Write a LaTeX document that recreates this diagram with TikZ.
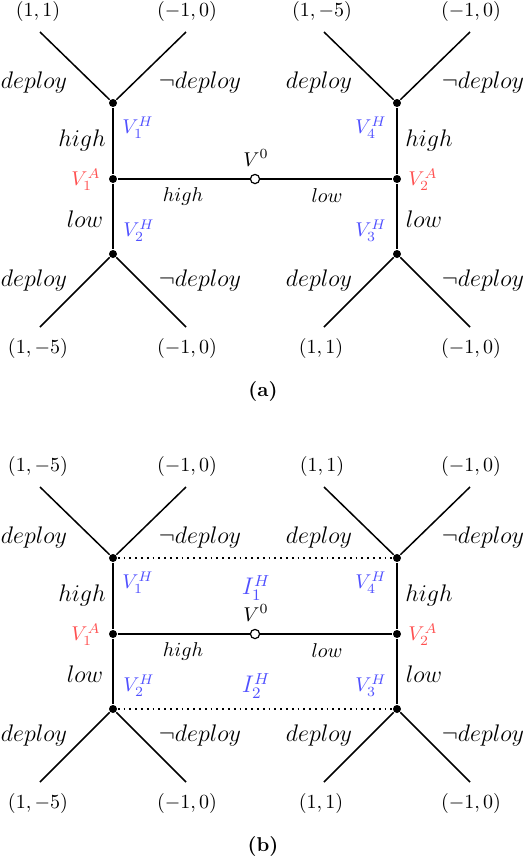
\documentclass[tikz,border=0pt]{standalone}
\usetikzlibrary{positioning}
\definecolor{cblue}{HTML}{5050FF}
\definecolor{cred}{HTML}{FF5050}
\tikzset{
  every picture/.style={line width=0.75pt},
  every node/.style={inner sep=1pt},
  dot/.style={circle, fill=black, inner sep=0pt, minimum size=4pt},
  hole/.style={circle, draw=black, fill=white, inner sep=0pt, minimum size=4.6pt, line width=0.6pt},
  act/.style={font=\large},
  pay/.style={font=\normalsize},
  hset/.style={text=cblue},
  aset/.style={text=cred},
  info/.style={dotted, line width=0.9pt},
}
\begin{document}
\begin{tikzpicture}[x=0.5pt, y=-0.5pt]
  \useasboundingbox (0,0) rectangle (526,858);
  \foreach \p/\dy/\pl/\pr in {a/0/{(1,1)}/{(1,-5)}, b/455/{(1,-5)}/{(1,1)}} {
    \begin{scope}[shift={(0,\dy)}]
      % decision nodes
      \node[dot] (\p-v1h) at (113,103) {};
      \node[dot] (\p-v1a) at (113,179) {};
      \node[dot] (\p-v2h) at (113,254) {};
      \node[dot] (\p-v4h) at (397,103) {};
      \node[dot] (\p-v2a) at (397,179) {};
      \node[dot] (\p-v3h) at (397,254) {};
      \node[hole] (\p-v0) at (255,179) {};
      % leaves
      \coordinate (\p-l1) at (40,32);
      \coordinate (\p-l2) at (186,32);
      \coordinate (\p-l3) at (324,32);
      \coordinate (\p-l4) at (470,32);
      \coordinate (\p-l5) at (40,327);
      \coordinate (\p-l6) at (186,327);
      \coordinate (\p-l7) at (324,327);
      \coordinate (\p-l8) at (470,327);
      % edges
      \draw (\p-l1) -- (\p-v1h) -- (\p-l2);
      \draw (\p-l3) -- (\p-v4h) -- (\p-l4);
      \draw (\p-l5) -- (\p-v2h) -- (\p-l6);
      \draw (\p-l7) -- (\p-v3h) -- (\p-l8);
      \draw (\p-v1h) -- (\p-v1a) -- (\p-v2h);
      \draw (\p-v4h) -- (\p-v2a) -- (\p-v3h);
      \draw (\p-v1a) -- (\p-v0) -- (\p-v2a);
      % payoffs
      \node[pay] (\p-p1) at (38,11) {$\pl$};
      \node[pay] (\p-p2) at (187,11) {$(-1,0)$};
      \node[pay] (\p-p3) at (322,11) {$\pr$};
      \node[pay] (\p-p4) at (471,11) {$(-1,0)$};
      \node[pay] (\p-p5) at (38,348) {$(1,-5)$};
      \node[pay] (\p-p6) at (187,348) {$(-1,0)$};
      \node[pay] (\p-p7) at (321,348) {$(1,1)$};
      \node[pay] (\p-p8) at (471,348) {$(-1,0)$};
      % actions
      \node[act] (\p-d1) at (34,82) {$deploy$};
      \node[act] (\p-n1) at (200,82) {$\neg deploy$};
      \node[act] (\p-d2) at (319,82) {$deploy$};
      \node[act] (\p-n2) at (483,82) {$\neg deploy$};
      \node[act] (\p-d3) at (34,280) {$deploy$};
      \node[act] (\p-n3) at (200,280) {$\neg deploy$};
      \node[act] (\p-d4) at (319,280) {$deploy$};
      \node[act] (\p-n4) at (483,280) {$\neg deploy$};
      \node[act] (\p-hi1) at (82,140) {$high$};
      \node[act] (\p-lo1) at (85,219) {$low$};
      \node[act] (\p-hi2) at (429,140) {$high$};
      \node[act] (\p-lo2) at (424,219) {$low$};
      \node (\p-hi0) at (183,196) {$high$};
      \node (\p-lo0) at (327,196) {$low$};
      % node labels
      \node[hset] (\p-t1h) at (138,128) {$V_1^H$};
      \node[hset] (\p-t2h) at (139,231) {$V_2^H$};
      \node[hset] (\p-t4h) at (371,128) {$V_4^H$};
      \node[hset] (\p-t3h) at (371,231) {$V_3^H$};
      \node[aset] (\p-t1a) at (86,180) {$V_1^A$};
      \node[aset] (\p-t2a) at (423,180) {$V_2^A$};
      \node (\p-t0) at (256,158) {$V^0$};
      \node[font=\bfseries] (\p-cap) at (263,391) {(\p)};
    \end{scope}
  }
  % information sets of (b)
  \draw[info] (b-v1h) -- (b-v4h);
  \draw[info] (b-v2h) -- (b-v3h);
  \node[hset, font=\large] (b-i1) at (256,588) {$I_1^H$};
  \node[hset, font=\large] (b-i2) at (256,686) {$I_2^H$};
\end{tikzpicture}
\end{document}
